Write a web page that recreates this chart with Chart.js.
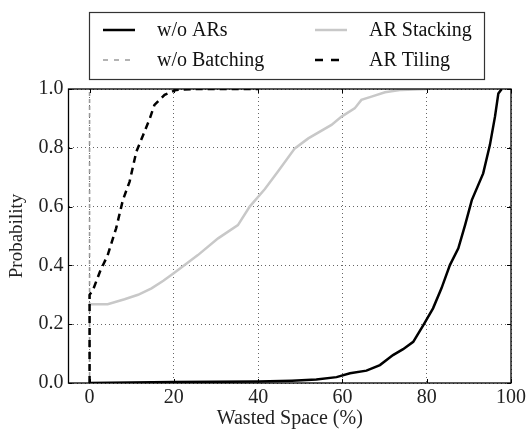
<!DOCTYPE html>
<html>
<head>
<meta charset="utf-8">
<style>
  html, body { margin: 0; padding: 0; background: #fff; }
  #wrap { width: 529px; height: 431px; }
</style>
</head>
<body>
<div id="wrap"><canvas id="cdf" width="529" height="431"></canvas></div>
<script src="https://cdn.jsdelivr.net/npm/chart.js@4/dist/chart.umd.min.js"></script>
<script>
// wasted space CDFs, x in percent, y = cumulative probability
const noArX = [0, 10, 20, 30, 40, 48, 53.8, 58.6, 61.8, 65.7, 68.9, 72, 74.4, 76.8, 79.2, 81.5, 83.5, 85.5, 87.5, 89.1, 90.7, 93.4, 95, 96.2, 97, 97.8];
const noArY = [0, 0.002, 0.003, 0.004, 0.005, 0.008, 0.012, 0.02, 0.033, 0.042, 0.061, 0.095, 0.115, 0.14, 0.197, 0.254, 0.322, 0.401, 0.458, 0.537, 0.622, 0.713, 0.81, 0.906, 0.985, 1.0];

const noBatchX = [0, 0];
const noBatchY = [0, 1.0];

const stackX = [0, 4.3, 8.3, 11.5, 14.7, 17.5, 20.2, 25.7, 30.5, 35.2, 38, 41.6, 44.7, 48.7, 51.9, 57.4, 59.8, 62.9, 64.5, 66.9, 70.1, 74, 80];
const stackY = [0.268, 0.268, 0.285, 0.300, 0.322, 0.348, 0.376, 0.435, 0.492, 0.537, 0.60, 0.66, 0.719, 0.798, 0.832, 0.878, 0.906, 0.934, 0.963, 0.974, 0.989, 0.997, 1.0];

const tileX = [0, 0, 0.8, 2.5, 4.3, 6.3, 7.9, 9.5, 11.1, 12.7, 14.3, 15.4, 17.8, 20.6, 25, 40];
const tileY = [0, 0.30, 0.316, 0.38, 0.435, 0.526, 0.622, 0.685, 0.787, 0.843, 0.90, 0.946, 0.98, 0.997, 1.0, 1.0];

const xTicks = [0, 20, 40, 60, 80, 100];
const yTicks = [0.0, 0.2, 0.4, 0.6, 0.8, 1.0];

const FONT = 'Liberation Serif';

function pts(xs, ys) {
  return xs.map((x, i) => ({ x: x, y: ys[i] }));
}

const series = [
  { label: 'w/o ARs', data: pts(noArX, noArY), color: '#000', width: 2.5, dash: [], order: 3 },
  { label: 'w/o Batching', data: pts(noBatchX, noBatchY), color: '#9a9a9a', width: 1.6, dash: [4, 3], order: 2 },
  { label: 'AR Stacking', data: pts(stackX, stackY), color: '#c8c8c8', width: 2.5, dash: [], order: 1 },
  { label: 'AR Tiling', data: pts(tileX, tileY), color: '#000', width: 2.5, dash: [7, 5], order: 0 }
];

// frame, inward tick marks and the boxed two-column legend
const decor = {
  id: 'decor',
  afterDraw(chart) {
    const ctx = chart.ctx;
    const a = chart.chartArea;
    const xs = chart.scales.x, ys = chart.scales.y;
    ctx.save();
    ctx.strokeStyle = '#000';
    ctx.lineWidth = 1;
    ctx.setLineDash([]);
    ctx.beginPath();
    xTicks.forEach(v => {
      const px = Math.round(xs.getPixelForValue(v)) + 0.5;
      ctx.moveTo(px, a.bottom); ctx.lineTo(px, a.bottom - 4);
      ctx.moveTo(px, a.top); ctx.lineTo(px, a.top + 4);
    });
    yTicks.forEach(v => {
      const py = Math.round(ys.getPixelForValue(v)) + 0.5;
      ctx.moveTo(a.left, py); ctx.lineTo(a.left + 4, py);
      ctx.moveTo(a.right, py); ctx.lineTo(a.right - 4, py);
    });
    ctx.stroke();
    ctx.lineWidth = 1.3;
    ctx.strokeRect(a.left, a.top, a.right - a.left, a.bottom - a.top);

    // legend box, filled column by column
    ctx.lineWidth = 1.2;
    ctx.strokeStyle = '#333';
    ctx.strokeRect(89.5, 12.5, 395, 67);
    const cols = [103, 315];
    const rows = [30, 60];
    const slots = [[0, 0], [0, 1], [1, 0], [1, 1]];
    ctx.font = '20px "' + FONT + '"';
    ctx.textBaseline = 'middle';
    ctx.fillStyle = '#111';
    series.forEach((s, i) => {
      const c = slots[i][0], r = slots[i][1];
      const x0 = cols[c], y0 = rows[r];
      ctx.strokeStyle = s.color;
      ctx.lineWidth = s.width;
      ctx.setLineDash(s.dash.length ? [s.dash[0] + 1, s.dash[1] + 3] : []);
      ctx.beginPath();
      ctx.moveTo(x0, y0); ctx.lineTo(x0 + 32, y0);
      ctx.stroke();
      ctx.setLineDash([]);
      ctx.fillText(s.label, x0 + 54, y0 + 1);
    });
    ctx.restore();
  }
};

new Chart(document.getElementById('cdf'), {
  type: 'line',
  data: {
    datasets: series.map(s => ({
      label: s.label,
      data: s.data,
      borderColor: s.color,
      borderWidth: s.width,
      borderDash: s.dash,
      pointRadius: 0,
      fill: false,
      tension: 0,
      order: s.order
    }))
  },
  options: {
    responsive: false,
    animation: false,
    layout: { padding: { top: 89, right: 18, left: 0, bottom: 0 } },
    plugins: { legend: { display: false }, tooltip: { enabled: false } },
    scales: {
      x: {
        type: 'linear',
        min: -5, max: 100,
        afterFit(scale) { scale.height = 48; },
        ticks: {
          stepSize: 20, includeBounds: false, padding: 3,
          color: '#222', font: { family: FONT, size: 20 }
        },
        grid: { color: '#666', lineWidth: 1, drawTicks: false },
        border: { display: false, dash: [1, 3] },
        title: {
          display: true, text: 'Wasted Space (%)', color: '#222',
          font: { family: FONT, size: 20 }, padding: { top: 0, bottom: 0 }
        }
      },
      y: {
        type: 'linear',
        min: 0, max: 1,
        afterFit(scale) { scale.width = 68.5; },
        ticks: {
          stepSize: 0.2, padding: 5, color: '#222',
          font: { family: FONT, size: 20 },
          callback: v => v.toFixed(1)
        },
        grid: { color: '#666', lineWidth: 1, drawTicks: false },
        border: { display: false, dash: [1, 3] },
        title: {
          display: true, text: 'Probability', color: '#222',
          font: { family: FONT, size: 19 }, padding: { top: 6, bottom: 0 }
        }
      }
    }
  },
  plugins: [decor]
});
</script>
</body>
</html>
